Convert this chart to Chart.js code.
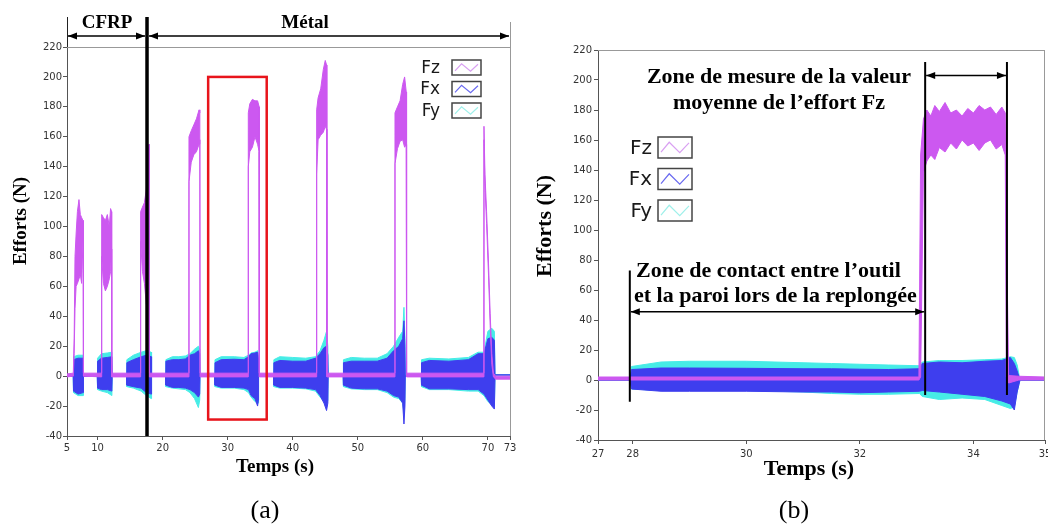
<!DOCTYPE html>
<html>
<head>
<meta charset="utf-8">
<script src="https://cdn.jsdelivr.net/npm/chart.js@4.4.1/dist/chart.umd.min.js"></script>
<style>
  html, body { margin: 0; padding: 0; background: #fff; overflow: hidden; }
  body { width: 1048px; height: 527px; position: relative; }
  canvas { position: absolute; top: 0; }
  #chart-a { left: 0; }
  #chart-b { left: 530px; }
</style>
</head>
<body>
<canvas id="chart-a" width="520" height="527"></canvas>
<canvas id="chart-b" width="530" height="527"></canvas>
<script>
// ---- tick labels ----
const yTicks = [-40, -20, 0, 20, 40, 60, 80, 100, 120, 140, 160, 180, 200, 220];
const aRange = [5.3, 73.4];   // axis ends, labelled 5 and 73
const aTicks = [10, 20, 30, 40, 50, 60, 70];
const bRange = [27.39, 35.26]; // axis ends, labelled 27 and 35
const bTicks = [28, 30, 32, 34];

// ---- (a) full test : envelopes (max / min) of each force, in N ----
const aFzT = [5.3, 6.27, 6.4, 6.53, 6.7, 6.9, 7.14, 7.35, 7.55, 7.75, 7.8, 7.83,
  10.6, 10.63, 10.9, 11.2, 11.5, 11.8, 12.0, 12.15, 12.17,
  16.6, 16.62, 16.9, 17.2, 17.5, 17.75, 17.92, 17.95,
  24.02, 24.05, 24.4, 24.8, 25.2, 25.6, 25.72, 25.75,
  33.14, 33.17, 33.4, 33.8, 34.2, 34.6, 34.84, 34.87,
  43.65, 43.68, 43.9, 44.3, 44.7, 45.0, 45.2, 45.25,
  55.69, 55.72, 56.1, 56.5, 56.9, 57.2, 57.45, 57.5,
  69.33, 69.4, 69.55, 69.8, 70.1, 70.35, 70.6, 70.85, 71.2, 73.4];
const aFzHi = [1.5, 2, 25, 80, 95, 110, 118, 108, 106, 104, 104, 2,
  2, 108, 106, 104, 108, 100, 112, 110, 2,
  2, 110, 113, 116, 125, 150, 155, 2,
  2, 160, 164, 168, 172, 178, 176, 2,
  2, 176, 182, 185, 184, 184, 180, 2,
  2, 178, 186, 192, 205, 211, 208, 2,
  2, 176, 180, 184, 195, 200, 190, 2,
  2, 167, 135, 110, 75, 42, 15, 2, 0, 0];
const aFzLo = [-0.5, 0, 15, 45, 60, 62, 65, 68, 62, 90, 85, 0,
  -0.5, 80, 62, 57, 60, 65, 70, 85, -0.5,
  -0.5, 90, 70, 62, 48, 70, 100, -0.5,
  -0.5, 130, 143, 148, 150, 155, 158, -0.5,
  -0.5, 140, 150, 153, 160, 155, 150, -0.5,
  -0.5, 135, 158, 161, 163, 167, 165, -0.5,
  -0.5, 142, 152, 157, 158, 153, 155, -0.5,
  -0.5, 158, 127, 102, 67, 34, 8, -0.5, -2, -2];

const aXYT = [5.3,
  6.25, 6.3, 7.0, 7.78, 7.83,
  9.95, 10.0, 10.6, 11.5, 12.2, 12.25,
  14.45, 14.5, 15.5, 16.7, 17.5, 18.25, 18.3,
  20.45, 20.5, 21.5, 22.5, 23.5, 24.2, 24.9, 25.5, 25.7, 25.75,
  28.0, 28.05, 29, 31, 32.5, 33.2, 33.6, 34.2, 34.6, 34.72, 34.75,
  37.05, 37.1, 38, 40, 42, 43.5, 44.2, 44.8, 45.2, 45.4, 45.45,
  47.75, 47.8, 49, 51, 53, 54.5, 55.5, 56.3, 56.9, 57.1, 57.25, 57.3,
  59.75, 59.8, 61, 64, 67, 68.5, 69.4, 70.0, 70.6, 71.0, 71.1, 71.15, 73.4];
const aFxHi = [0,
  0, 11, 12, 12, 0,
  0, 10, 12, 12.5, 13, 0,
  0, 9, 11, 13, 14, 13, 0,
  0, 10, 11, 11, 11.5, 14, 15, 17, 15, 0,
  0, 9, 11, 11.3, 11, 13, 15, 15.5, 16, 12, 0,
  0, 9, 10.5, 10, 10, 12, 15, 19, 20, 14, 0,
  0, 9, 10, 10, 10, 12, 17, 20, 25, 37, 20, 0,
  0, 9, 10.5, 10, 11, 15, 15, 25, 26, 24, 0, 0.8, 0.8];
const aFxLo = [0,
  0, -10, -12, -11, 0,
  0, -8, -9, -9, -10, 0,
  0, -6, -7, -8, -11, -12, 0,
  0, -6, -7.5, -7.5, -8, -9, -11, -14, -12, 0,
  0, -6, -7.5, -7.5, -8, -9, -13, -15, -20, -16, 0,
  0, -6, -7.5, -7.5, -8, -9, -13, -18, -23, -18, 0,
  0, -6, -8, -8.5, -8.5, -10, -13, -14, -18, -32, -20, 0,
  0, -6, -8.5, -8.5, -9, -9, -12, -16, -20, -22, 0, 0.8, 0.8];
const aFyHi = [0,
  0, 13, 14, 14, 0,
  0, 12, 15, 15.5, 16, 0,
  0, 11, 14, 16, 17, 16, 0,
  0, 11, 13, 13, 13.5, 15, 18, 20, 18, 0,
  0, 11, 13, 13, 12.5, 14, 15.5, 16, 17, 14, 0,
  0, 11, 13, 12.5, 12, 13, 17, 24, 30, 20, 0,
  0, 11, 12.5, 12, 12, 15, 20, 26, 30, 46, 25, 0,
  0, 11, 12, 11.5, 12.5, 16, 16, 30, 32, 30, 0, 0.8, 0.8];
const aFyLo = [0,
  0, -11, -13, -13, 0,
  0, -9, -10, -11, -13, 0,
  0, -7, -8, -10, -13, -15, 0,
  0, -7, -8, -8.5, -9, -11, -15, -21, -16, 0,
  0, -7, -8, -8, -9, -11, -14, -17, -18, -18, 0,
  0, -7, -8, -8, -8.5, -10, -14, -17, -20, -16, 0,
  0, -7, -8.5, -9, -9, -11, -14, -15, -18, -25, -15, 0,
  0, -7, -9, -9, -10, -10, -13, -17, -19, -20, 0, 0.8, 0.8];

// ---- (b) zoom on one replunge ----
const bFzT = [27.39, 33.04, 33.07, 33.12, 33.18, 33.25, 33.32, 33.4, 33.5, 33.6, 33.7, 33.8,
  33.9, 34.0, 34.1, 34.2, 34.3, 34.4, 34.5, 34.56, 34.58, 34.62, 34.8, 35.26];
const bFzHi = [2, 2, 150, 174, 180, 176, 183, 179, 185, 178, 180, 176,
  181, 178, 183, 180, 182, 177, 182, 178, 105, 3, 2.5, 2];
const bFzLo = [0, 0, 2, 138, 146, 150, 147, 155, 152, 158, 154, 160,
  156, 158, 153, 158, 160, 154, 157, 150, 2, -2, 0, 0];

const bXYT = [27.39, 27.95, 27.98, 28.5, 29, 30, 31, 31.5, 32, 32.5, 33.05, 33.1, 33.4,
  33.8, 34.2, 34.5, 34.65, 34.72, 34.77, 34.82, 35.26];
const bFxHi = [0, 0, 7, 8, 8, 7.8, 7.5, 7.5, 7.2, 7, 7.5, 11, 12, 11.5, 12.5, 13, 15, 11, 6, 0, 0];
const bFxLo = [0, 0, -6, -7.5, -7.5, -7.5, -8, -8, -8.5, -8, -7.5, -7, -8, -9.5, -11, -14, -16, -20, -8, 0, 0];
const bFyHi = [0, 0, 9, 12, 12.5, 12.5, 11.5, 11, 10.5, 10, 9.5, 12, 13, 13, 13.5, 14, 15.5, 15, 10, 0, 0];
const bFyLo = [0, 0, -6, -7, -7, -7, -8, -9, -9.5, -9.5, -9, -11, -13, -12, -13, -17, -19, -18, -8, 0, 0];

// annotation positions (data units)
const cfrpEnd = 17.6;
const zoomBox = [27, 36, -29, 200];
const bMarks = [27.95, 33.15, 34.59];

const colFz = "rgb(204, 88, 240)";
const colFx = "rgb(62, 62, 238)";
const colFy = "rgb(70, 236, 230)";
const legendItems = [
  { name: "Fz", color: "#d9a0f2" },
  { name: "Fx", color: "#6a6af0" },
  { name: "Fy", color: "#9ff0ea" }
];

function pts(t, v) { return t.map((x, i) => ({ x: x, y: v[i] })); }

// a signal drawn as the band between its max and min envelopes
function band(label, t, hi, lo, color) {
  return [
    { label: label, data: pts(t, hi), borderColor: color, borderWidth: 1, pointRadius: 0, fill: false },
    { label: label + " min", data: pts(t, lo), borderColor: color, backgroundColor: color, borderWidth: 1, pointRadius: 0, fill: "-1" }
  ];
}

function seg(ctx, x1, y1, x2, y2) {
  ctx.beginPath(); ctx.moveTo(x1, y1); ctx.lineTo(x2, y2); ctx.stroke();
}
function head(ctx, x, y, dir) {
  ctx.beginPath();
  ctx.moveTo(x, y);
  ctx.lineTo(x - dir * 9, y - 3.5);
  ctx.lineTo(x - dir * 9, y + 3.5);
  ctx.closePath();
  ctx.fill();
}
function arrow(ctx, x1, x2, y) {
  ctx.lineWidth = 1.3; ctx.strokeStyle = "#000"; ctx.fillStyle = "#000";
  seg(ctx, x1, y, x2, y); head(ctx, x1, y, -1); head(ctx, x2, y, 1);
}
function legend(ctx, textRight, boxX, y0, step, boxW, boxH, size) {
  legendItems.forEach((it, i) => {
    const cy = y0 + i * step, top = cy - boxH / 2;
    ctx.font = size + 'px "DejaVu Sans"';
    ctx.textAlign = "right"; ctx.textBaseline = "middle";
    ctx.fillStyle = "#1a1a1a";
    ctx.fillText(it.name, textRight, cy + 1);
    ctx.fillStyle = "#fff"; ctx.fillRect(boxX, top, boxW, boxH);
    ctx.strokeStyle = "#444"; ctx.lineWidth = 1.5;
    ctx.strokeRect(boxX, top, boxW, boxH);
    ctx.strokeStyle = it.color; ctx.lineWidth = 1.2;
    ctx.beginPath();
    ctx.moveTo(boxX + 3, top + boxH * 0.72);
    ctx.lineTo(boxX + boxW * 0.33, top + boxH * 0.25);
    ctx.lineTo(boxX + boxW * 0.64, top + boxH * 0.75);
    ctx.lineTo(boxX + boxW - 3, top + boxH * 0.28);
    ctx.stroke();
  });
}
function titles(ctx, size, yx, yy, xx, xy, tag, tagX) {
  ctx.fillStyle = "#000";
  ctx.font = "bold " + size + 'px "Liberation Serif"';
  ctx.textAlign = "center"; ctx.textBaseline = "alphabetic";
  ctx.fillText("Temps (s)", xx, xy);
  ctx.save();
  ctx.translate(yx, yy); ctx.rotate(-Math.PI / 2);
  ctx.fillText("Efforts (N)", 0, 0);
  ctx.restore();
  ctx.font = '26px "Liberation Serif"';
  ctx.textBaseline = "middle";
  ctx.fillText(tag, tagX, 511);
}

const markA = {
  id: "markA",
  afterDraw(chart) {
    const ctx = chart.ctx, a = chart.chartArea, sx = chart.scales.x, sy = chart.scales.y;
    ctx.save();
    ctx.strokeStyle = "#999"; ctx.lineWidth = 1;
    seg(ctx, a.left, a.top + 0.5, a.right, a.top + 0.5);
    seg(ctx, a.right + 0.5, 22, a.right + 0.5, a.bottom);
    ctx.strokeStyle = "#222";
    seg(ctx, a.left + 0.5, 17, a.left + 0.5, a.top);
    // zoomed window of (b)
    const rx1 = sx.getPixelForValue(zoomBox[0]), rx2 = sx.getPixelForValue(zoomBox[1]);
    const ry1 = sy.getPixelForValue(zoomBox[3]), ry2 = sy.getPixelForValue(zoomBox[2]);
    ctx.strokeStyle = "#e8141b"; ctx.lineWidth = 2.5;
    ctx.strokeRect(rx1, ry1, rx2 - rx1, ry2 - ry1);
    // CFRP / metal limit
    const xb = sx.getPixelForValue(cfrpEnd);
    ctx.strokeStyle = "#000"; ctx.lineWidth = 3.5;
    seg(ctx, xb, 17, xb, a.bottom);
    arrow(ctx, a.left + 1, xb - 2, 36);
    arrow(ctx, xb + 2, a.right - 1, 36);
    ctx.font = 'bold 19px "Liberation Serif"';
    ctx.textAlign = "center"; ctx.textBaseline = "alphabetic";
    ctx.fillText("CFRP", 107, 28);
    ctx.fillText("Métal", 305, 28);
    legend(ctx, 440, 452, 67.5, 21.5, 29, 15, 17);
    titles(ctx, 19, 26, 221, 275, 472, "(a)", 265);
    ctx.restore();
  }
};

const markB = {
  id: "markB",
  afterDraw(chart) {
    const ctx = chart.ctx, a = chart.chartArea, sx = chart.scales.x, sy = chart.scales.y;
    ctx.save();
    ctx.strokeStyle = "#999"; ctx.lineWidth = 1;
    seg(ctx, a.left, a.top + 0.5, a.right, a.top + 0.5);
    seg(ctx, a.right - 0.5, a.top, a.right - 0.5, a.bottom);
    const m = bMarks.map((t) => sx.getPixelForValue(t));
    ctx.strokeStyle = "#000"; ctx.lineWidth = 2;
    seg(ctx, m[0], sy.getPixelForValue(73), m[0], sy.getPixelForValue(-14.5));
    seg(ctx, m[1], sy.getPixelForValue(212), m[1], sy.getPixelForValue(-10));
    seg(ctx, m[2], sy.getPixelForValue(212), m[2], sy.getPixelForValue(-10));
    arrow(ctx, m[1] + 1, m[2] - 1, sy.getPixelForValue(203));
    arrow(ctx, m[0] + 1, m[1] - 1, sy.getPixelForValue(45.5));
    ctx.fillStyle = "#000";
    ctx.font = 'bold 22px "Liberation Serif"';
    ctx.textAlign = "center"; ctx.textBaseline = "alphabetic";
    ctx.fillText("Zone de mesure de la valeur", 249, 83);
    ctx.fillText("moyenne de l’effort Fz", 249, 109);
    ctx.textAlign = "left";
    ctx.fillText("Zone de contact entre l’outil", 106, 277);
    ctx.fillText("et la paroi lors de la replongée", 104, 302);
    legend(ctx, 122, 128, 147.5, 31.5, 34, 21, 20);
    titles(ctx, 22, 21, 226, 279, 475, "(b)", 264);
    ctx.restore();
  }
};

function axes(range, ticks, yWidth, xHeight, xPad, yPad) {
  return {
    x: {
      type: "linear", min: range[0], max: range[1],
      afterBuildTicks: (s) => { s.ticks = [range[0]].concat(ticks, [range[1]]).map((v) => ({ value: v })); },
      afterFit: (s) => { s.height = xHeight; },
      ticks: {
        callback: (v) => String(Math.round(v)), autoSkip: false, maxRotation: 0,
        padding: xPad, color: "#333", font: { family: "DejaVu Sans", size: 10 }
      },
      grid: { drawOnChartArea: false, tickLength: 4, color: "#555" },
      border: { color: "#555" }
    },
    y: {
      type: "linear", min: -40, max: 220,
      afterBuildTicks: (s) => { s.ticks = yTicks.map((v) => ({ value: v })); },
      afterFit: (s) => { s.width = yWidth; },
      ticks: { padding: yPad, color: "#333", font: { family: "DejaVu Sans", size: 10 } },
      grid: { drawOnChartArea: false, tickLength: 4, color: "#555" },
      border: { color: "#555" }
    }
  };
}

function baseOptions(padTop, padRight, scales) {
  return {
    responsive: false,
    animation: false,
    events: [],
    layout: { padding: { top: padTop, right: padRight, bottom: 0, left: 0 } },
    plugins: { legend: { display: false }, tooltip: { enabled: false } },
    elements: { line: { tension: 0 }, point: { radius: 0 } },
    scales: scales
  };
}

new Chart(document.getElementById("chart-a").getContext("2d"), {
  type: "line",
  data: {
    datasets: [].concat(
      band("Fz", aFzT, aFzHi, aFzLo, colFz),
      band("Fx", aXYT, aFxHi, aFxLo, colFx),
      band("Fy", aXYT, aFyHi, aFyLo, colFy)
    )
  },
  options: baseOptions(47, 10, axes(aRange, aTicks, 67, 91, 2, 1)),
  plugins: [markA]
});

new Chart(document.getElementById("chart-b").getContext("2d"), {
  type: "line",
  data: {
    datasets: [].concat(
      band("Fz", bFzT, bFzHi, bFzLo, colFz),
      band("Fx", bXYT, bFxHi, bFxLo, colFx),
      band("Fy", bXYT, bFyHi, bFyLo, colFy)
    )
  },
  options: baseOptions(50, 15, axes(bRange, bTicks, 68, 87, 4, 2)),
  plugins: [markB]
});
</script>
</body>
</html>
